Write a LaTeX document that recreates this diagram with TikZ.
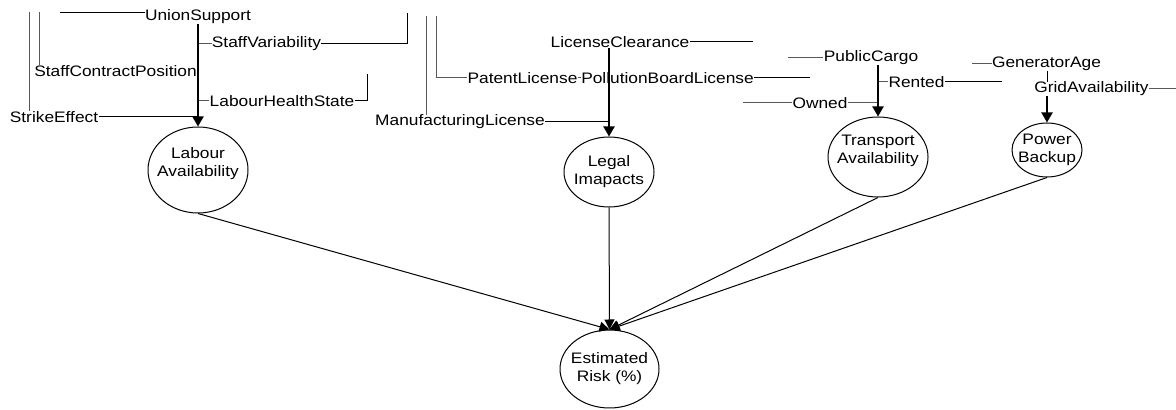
\documentclass[tikz,border=0pt]{standalone}
\usepackage{fontspec}
\setmainfont{Liberation Sans}[FakeStretch=1.14]
\usetikzlibrary{arrows.meta,positioning,shapes.geometric}
\newcommand\termfont{\fontsize{7.6bp}{9bp}\selectfont}
\tikzset{
 term/.style={inner sep=0pt,font=\termfont},
 factor/.style={ellipse,draw=black,line width=0.5bp,inner sep=0pt,fill=white},
 every label/.style={align=center,font=\termfont,inner sep=0pt},
 wire/.style={draw=black,line width=0.5bp},
 dimwire/.style={draw=black!65,line width=0.5bp},
 feed/.style={-{Triangle[length=5bp,width=5.5bp]},line width=1bp},
 merge/.style={-{Triangle[length=5bp,width=5bp]},line width=0.5bp}}

\begin{document}
\begin{tikzpicture}[x=0.5bp,y=-0.5bp]
\useasboundingbox (0,0) rectangle (1176,410);
% labour side
\node[term] (union) at (198,17) {UnionSupport};
\node[term] (staffvar) at (266.5,44) {StaffVariability};
\node[term] (contract) at (115.5,71) {StaffContractPosition};
\node[term] (health) at (282,101) {LabourHealthState};
\node[term] (strike) at (54,117) {StrikeEffect};
\node[factor,minimum width=50bp,minimum height=43bp,label={[yshift=3bp]center:Labour\\Availability}] (labour) at (198,170) {};
% legal side
\node[term] (clearance) at (620,42) {LicenseClearance};
\node[term] (patent) at (522.5,78) {PatentLicense};
\node[term] (pollution) at (667.5,78) {PollutionBoardLicense};
\node[term] (manuf) at (460,122) {ManufacturingLicense};
\node[factor,minimum width=45bp,minimum height=35bp,label={center:Legal\\Imapacts}] (legal) at (609,172) {};
% transport side
\node[term] (cargo) at (871,58) {PublicCargo};
\node[term] (rented) at (916.5,82) {Rented};
\node[term] (owned) at (820,103) {Owned};
\node[factor,minimum width=50bp,minimum height=40bp,label={[yshift=3bp]center:Transport\\Availability}] (transport) at (878,157) {};
% power side
\node[term] (genage) at (1046.5,64) {GeneratorAge};
\node[term] (grid) at (1091.5,89) {GridAvailability};
\node[factor,minimum width=35bp,minimum height=27bp,label={center:Power\\Backup}] (power) at (1047,150) {};
\node[factor,minimum width=49.5bp,minimum height=39bp,label={center:Estimated\\Risk (\%)}] (risk) at (609.5,369) {};
% loose ends of the feeder lines
\coordinate (unionTail) at (60,13); \coordinate (strikeTop) at (29,12);
\coordinate (contractTop) at (39,12); \coordinate (staffvarEnd) at (407,13);
\coordinate (healthEnd) at (367,74); \coordinate (manufTop) at (426,16);
\coordinate (patentTop) at (436,16); \coordinate (clearanceEnd) at (753,42);
\coordinate (pollutionEnd) at (810,78); \coordinate (cargoTail) at (788,58);
\coordinate (rentedEnd) at (1002,82); \coordinate (ownedTail) at (743,103);
\coordinate (genageTail) at (972,64); \coordinate (gridEnd) at (1176,89);
\draw[wire] (unionTail) -- (unionTail -| union.west);
\draw[dimwire] (strikeTop) -- (strikeTop |- strike.north); \draw[dimwire] (contractTop) -- (contractTop |- contract.north);
\draw[dimwire] (staffvar.west) -- (staffvar.west -| union.south); \draw[wire] (staffvar.east) -| (staffvarEnd);
\draw[dimwire] (health.west) -- (health.west -| union.south); \draw[wire] (health.east) -| (healthEnd);
\draw[wire] (strike.east) -- (strike.east -| union.south);
\draw[feed] (union.south) -- (labour.north);
\draw[dimwire] (manufTop) -- (manufTop |- manuf.north); \draw[dimwire] (patentTop) |- (patent.west);
\draw[dimwire] (patent.east) -- (pollution.west); \draw[wire] (pollution.east) -- (pollutionEnd);
\draw[wire] (clearance.east) -- (clearanceEnd); \draw[wire] (manuf.east) -- (manuf.east -| legal.north);
\draw[feed] (clearance.south -| legal.north) -- (legal.north);
\draw[dimwire] (cargoTail) -- (cargo.west);
\draw[dimwire] (rented.west) -- (rented.west -| transport.north); \draw[wire] (rented.east) -- (rentedEnd);
\draw[dimwire] (ownedTail) -- (owned.west); \draw[dimwire] (owned.east) -- (owned.east -| transport.north);
\draw[feed] (cargo.south -| transport.north) -- (transport.north);
\draw[dimwire] (genageTail) -- (genage.west); \draw[dimwire] (grid.east) -- (gridEnd);
\draw[wire] (genage.south -| power.north) -- (grid.north -| power.north);
\draw[feed] (grid.south -| power.north) -- (power.north);
\draw[merge] (labour.south) -- (risk.north); \draw[merge] (legal.south) -- (risk.north);
\draw[merge] (transport.south) -- (risk.north); \draw[merge] (power.south) -- (risk.north);
\end{tikzpicture}
\end{document}
